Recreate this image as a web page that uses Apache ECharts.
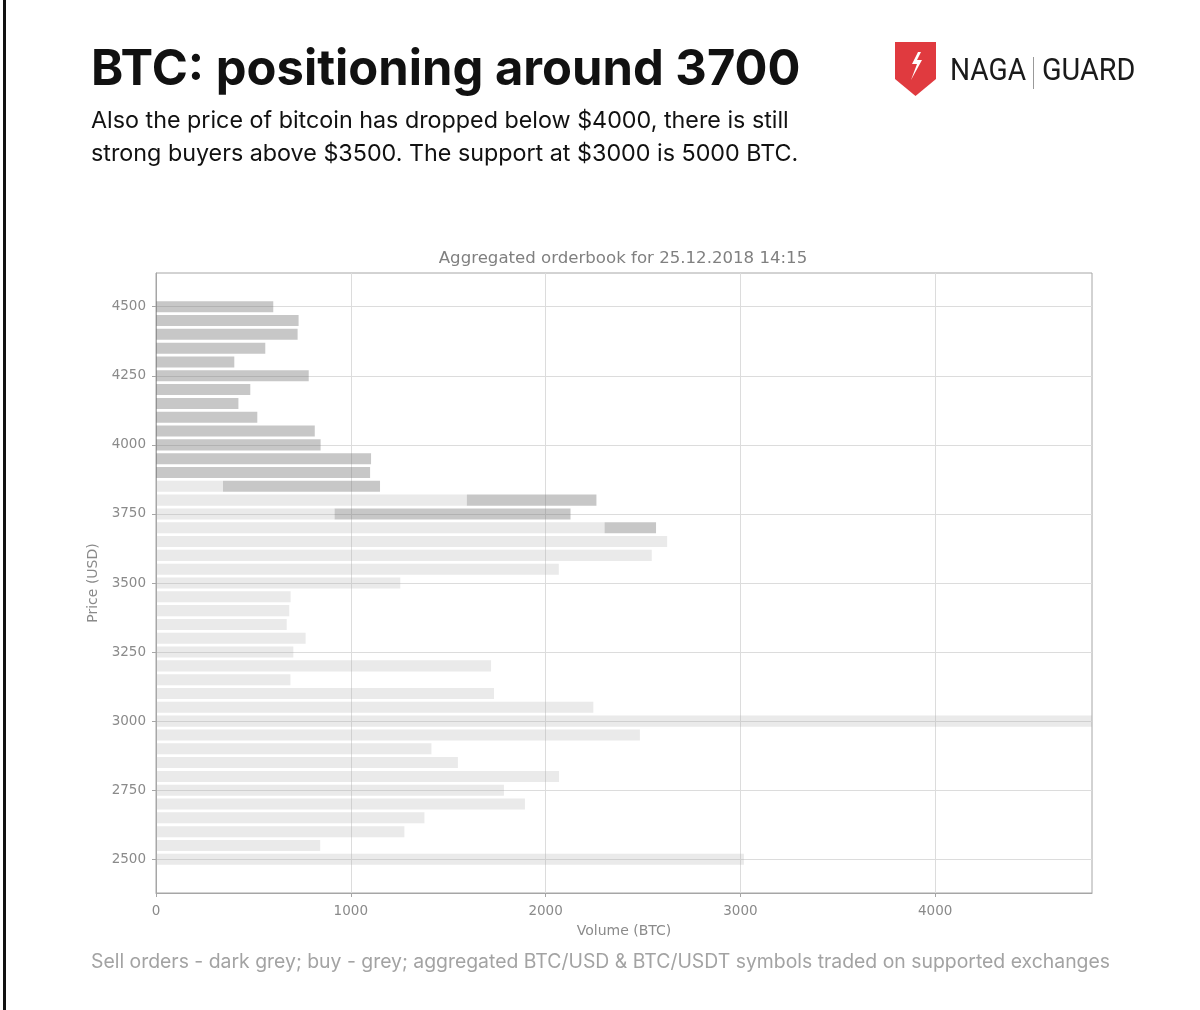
<!DOCTYPE html>
<html>
<head>
<meta charset="utf-8">
<script src="https://cdn.jsdelivr.net/npm/echarts@6/dist/echarts.min.js"></script>
<style>
  html, body { margin: 0; padding: 0; background: #ffffff; }
  #chart { width: 1200px; height: 1010px; }
</style>
</head>
<body>
<div id="chart"></div>
<script>
// ---- Data ----
const prices = [2500, 2550, 2600, 2650, 2700, 2750, 2800, 2850, 2900, 2950,
                3000, 3050, 3100, 3150, 3200, 3250, 3300, 3350, 3400, 3450,
                3500, 3550, 3600, 3650, 3700, 3750, 3800, 3850, 3900, 3950,
                4000, 4050, 4100, 4150, 4200, 4250, 4300, 4350, 4400, 4450, 4500];
// buy orders (grey), BTC
const buyVolume = [3018, 843, 1275, 1378, 1894, 1786, 2069, 1550, 1414, 2484,
                   5000, 2245, 1735, 690, 1720, 705, 768, 671, 684, 691,
                   1254, 2068, 2545, 2624, 2303, 917, 1596, 344, 0, 0,
                   0, 0, 0, 0, 0, 0, 0, 0, 0, 0, 0];
// sell orders (dark grey), BTC, drawn after the buy volume at the same level
const sellVolume = [0, 0, 0, 0, 0, 0, 0, 0, 0, 0,
                    0, 0, 0, 0, 0, 0, 0, 0, 0, 0,
                    0, 0, 0, 0, 264, 1211, 665, 806, 1099, 1104,
                    845, 815, 520, 423, 484, 784, 402, 561, 727, 732, 602];
const priceTicks = [2500, 2750, 3000, 3250, 3500, 3750, 4000, 4250, 4500];
const volumeTicks = [0, 1000, 2000, 3000, 4000];

const chartTitle = 'Aggregated orderbook for 25.12.2018 14:15';
const headline = 'BTC: positioning around 3700';
const subLines = ['Also the price of bitcoin has dropped below $4000, there is still',
                  'strong buyers above $3500. The support at $3000 is 5000 BTC.'];
const footnote = 'Sell orders - dark grey; buy - grey; aggregated BTC/USD & BTC/USDT symbols traded on supported exchanges';

// ---- Chart ----
const chart = echarts.init(document.getElementById('chart'), null, { renderer: 'canvas' });
const BAR_H = 40; // price units
const rows = prices.map((p, i) => [p, buyVolume[i], sellVolume[i]]);

function makeRender(which, fill) {
  return function (params, api) {
    const price = api.value(0);
    const b = api.value(1), s = api.value(2);
    const x0 = which === 'buy' ? 0 : b;
    const x1 = which === 'buy' ? b : b + s;
    if (x1 <= x0) return null;
    const p0 = api.coord([x0, price + BAR_H / 2]);
    const p1 = api.coord([x1, price - BAR_H / 2]);
    const cs = params.coordSys;
    const shape = echarts.graphic.clipRectByRect(
      { x: p0[0], y: p0[1], width: p1[0] - p0[0], height: p1[1] - p0[1] },
      { x: cs.x, y: cs.y, width: cs.width, height: cs.height });
    if (!shape) return null;
    return { type: 'rect', shape: shape, style: { fill: fill } };
  };
}

const tickFont = { color: '#8a8a8a', fontSize: 13.5, fontFamily: 'DejaVu Sans',
                   formatter: v => String(v) };

const option = {
  backgroundColor: '#ffffff',
  animation: false,
  grid: { left: 156, top: 273, width: 936, height: 620, show: true,
          borderColor: '#a6a6a6', borderWidth: 1, backgroundColor: 'transparent' },
  xAxis: {
    type: 'value', min: 0, max: 4805,
    name: 'Volume (BTC)', nameLocation: 'middle', nameGap: 31,
    nameTextStyle: { color: '#8a8a8a', fontSize: 14, fontFamily: 'DejaVu Sans' },
    axisLine: { show: true, lineStyle: { color: '#a6a6a6', width: 1 } },
    axisTick: { show: true, length: 4, customValues: volumeTicks, lineStyle: { color: '#a6a6a6' } },
    axisLabel: Object.assign({ margin: 11, customValues: volumeTicks }, tickFont),
    splitLine: { show: true, lineStyle: { color: '#dcdcdc', width: 1 } }
  },
  yAxis: {
    type: 'value', min: 2378, max: 4622,
    name: 'Price (USD)', nameLocation: 'middle', nameGap: 48, nameRotate: 90,
    nameTextStyle: { color: '#8a8a8a', fontSize: 14, fontFamily: 'DejaVu Sans' },
    axisLine: { show: true, lineStyle: { color: '#a6a6a6', width: 1 } },
    axisTick: { show: true, length: 4, customValues: priceTicks, lineStyle: { color: '#a6a6a6' } },
    axisLabel: Object.assign({ margin: 10, customValues: priceTicks }, tickFont),
    splitLine: { show: true, lineStyle: { color: '#dcdcdc', width: 1 } }
  },
  series: [
    { type: 'custom', name: 'Buy', data: rows, encode: { x: [1, 2], y: 0 },
      renderItem: makeRender('buy', 'rgba(170,170,170,0.25)'), z: 2 },
    { type: 'custom', name: 'Sell', data: rows, encode: { x: [1, 2], y: 0 },
      renderItem: makeRender('sell', 'rgba(115,115,115,0.40)'), z: 3 }
  ],
  graphic: [
    { type: 'rect', left: 3, top: 0, shape: { width: 3, height: 1010 }, style: { fill: '#111' } },
    { type: 'text', x: 91, y: 45, scaleX: 0.978, style: { text: headline, fill: '#111',
      font: '700 50px Inter' } },
    { type: 'text', left: 91, top: 109, style: { text: subLines[0], fill: '#111',
      font: '400 23.3px Inter' } },
    { type: 'text', left: 91, top: 142, style: { text: subLines[1], fill: '#111',
      font: '400 23.3px Inter' } },
    // logo
    { type: 'polygon', shape: { points: [[895, 42], [936, 42], [936, 79], [915.5, 96], [895, 79]] },
      style: { fill: '#e03a3f' } },
    { type: 'polygon', shape: { points: [[918, 52], [912, 64], [917, 64], [911, 80], [922, 60], [917, 60], [921, 52]] },
      style: { fill: '#ffffff' } },
    { type: 'text', x: 950, y: 56, scaleX: 0.88, style: { text: 'NAGA', fill: '#1a1a1a', font: '400 32px Roboto' } },
    { type: 'rect', left: 1033, top: 57, shape: { width: 1, height: 32 }, style: { fill: '#999' } },
    { type: 'text', x: 1042, y: 56, scaleX: 0.9, style: { text: 'GUARD', fill: '#1a1a1a', font: '400 32px Roboto' } },
    // chart title
    { type: 'text', x: 623, y: 259, style: { text: chartTitle, fill: '#808080',
      font: '400 16.6px "DejaVu Sans"', align: 'center', verticalAlign: 'middle' } },
    // footnote
    { type: 'text', left: 91, top: 953, style: { text: footnote, fill: '#a3a3a3',
      font: '400 19.4px Inter' } }
  ]
};
chart.setOption(option);
</script>
</body>
</html>
